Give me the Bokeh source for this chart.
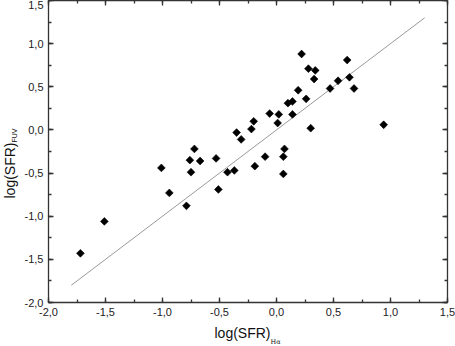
import numpy as np
from bokeh.plotting import figure
from bokeh.models import (LinearAxis, SingleIntervalTicker, CustomJSTickFormatter,
                          Title, Range1d)
from bokeh.embed import file_html
from bokeh.resources import INLINE

# log(SFR)_Halpha vs log(SFR)_FUV
log_sfr_ha = [-1.72, -1.51, -1.01, -0.94, -0.79, -0.76, -0.75, -0.72, -0.67, -0.53,
              -0.51, -0.43, -0.37, -0.35, -0.31, -0.22, -0.20, -0.19, -0.10, -0.06,
              0.01, 0.02, 0.07, 0.06, 0.06, 0.14, 0.30, 0.94, 0.22, 0.28,
              0.34, 0.33, 0.19, 0.26, 0.10, 0.14, 0.47, 0.54, 0.62, 0.64, 0.68]
log_sfr_fuv = [-1.43, -1.06, -0.44, -0.73, -0.88, -0.35, -0.49, -0.22, -0.36, -0.33,
               -0.69, -0.49, -0.47, -0.03, -0.11, 0.01, 0.10, -0.42, -0.31, 0.19,
               0.08, 0.18, -0.22, -0.31, -0.51, 0.18, 0.02, 0.06, 0.88, 0.71,
               0.69, 0.59, 0.46, 0.36, 0.31, 0.33, 0.48, 0.57, 0.81, 0.61, 0.48]
fit_x = [-1.8, 1.3]
fit_y = [-1.8, 1.3]
x_limits = (-2.0, 1.5)
y_limits = (-2.0, 1.5)

p = figure(width=455, height=346,
           x_range=Range1d(*x_limits), y_range=Range1d(*y_limits),
           output_backend="svg", toolbar_location=None,
           min_border_left=48, min_border_right=8, min_border_top=0,
           min_border_bottom=44)
p.xgrid.visible = False
p.ygrid.visible = False
p.outline_line_color = None
p.background_fill_color = "white"
p.border_fill_color = "white"

p.line(fit_x, fit_y, line_color="#9a9a9a", line_width=1)
p.scatter(log_sfr_ha, log_sfr_fuv, marker="square", size=5.5, angle=np.pi / 4,
          fill_color="black", line_color="black", line_width=0.6)

fmt = CustomJSTickFormatter(code="return tick.toFixed(1).replace('.', ',');")

def style(ax, labels=True):
    ax.ticker = SingleIntervalTicker(interval=0.5, num_minor_ticks=2)
    ax.formatter = fmt
    ax.major_tick_in = 5
    ax.major_tick_out = 0
    ax.minor_tick_in = 3
    ax.minor_tick_out = 0
    for a in ("axis_line", "major_tick_line", "minor_tick_line"):
        setattr(ax, a + "_color", "#333333")
        setattr(ax, a + "_width", 1.3)
    ax.major_label_text_font = "Liberation Sans"
    ax.major_label_text_color = "#222222"
    ax.major_label_text_font_size = "11px"
    ax.major_label_standoff = 5
    if not labels:
        ax.major_label_text_font_size = "0px"
        ax.major_label_standoff = 0

for ax in p.xaxis + p.yaxis:
    style(ax)

top = LinearAxis()
style(top, labels=False)
p.add_layout(top, "above")
right = LinearAxis()
style(right, labels=False)
p.add_layout(right, "right")

font = "Liberation Sans"

def title(text, size, offset, standoff, valign="bottom", fnt=font):
    return Title(text=text, text_font=fnt, text_font_size=size,
                 text_font_style="normal", text_color="#111111",
                 align="left", offset=offset, standoff=standoff,
                 vertical_align=valign)

# x-axis title: log(SFR) with subscript Hα
p.add_layout(title("log(SFR)", "14px", 166, 9), "below")
p.add_layout(title("Hα", "6.5px", 222, -16, "top", "DejaVu Serif"), "below")
# y-axis title: log(SFR) with subscript FUV (subscript nearer the axis)
p.add_layout(title("FUV", "7px", 160, 3, "top"), "left")
p.add_layout(title("log(SFR)", "14px", 104, -16), "left")

open("out.html", "w").write(file_html(p, INLINE))
